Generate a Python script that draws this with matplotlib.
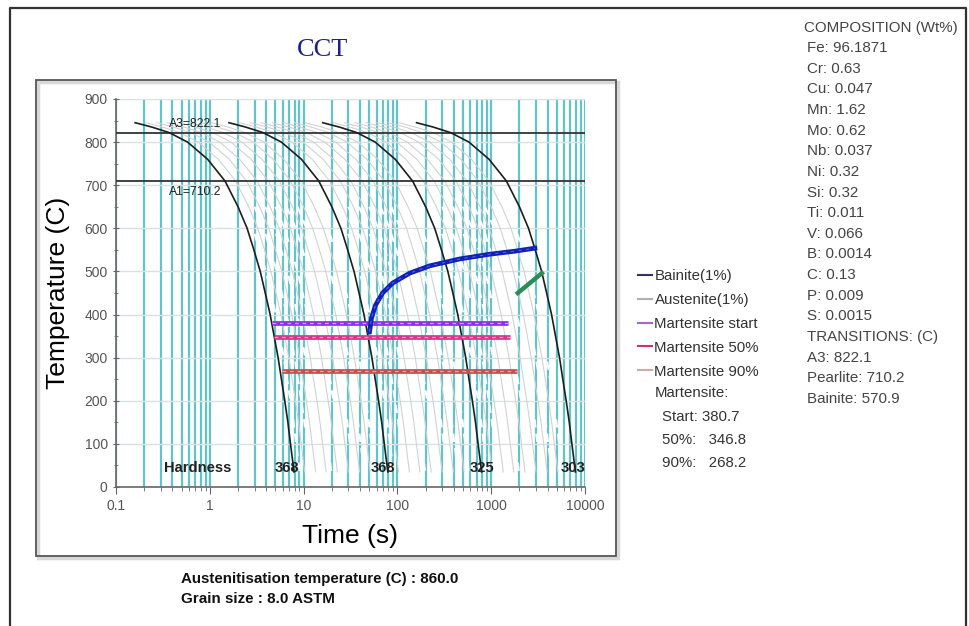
import numpy as np
import matplotlib
matplotlib.use('Agg')
import matplotlib.pyplot as plt
from matplotlib.lines import Line2D
from matplotlib.patches import Rectangle
from matplotlib.ticker import LogLocator, NullFormatter, MultipleLocator

plt.rcParams['font.family'] = ['Liberation Sans', 'DejaVu Sans']

# fastest cooling curve (time s, temperature C)
base_time = [0.16, 0.24, 0.37, 0.58, 0.95, 1.45, 2.0, 2.5, 2.95, 3.45, 3.9,
             4.4, 4.85, 5.35, 5.8, 6.3, 6.8, 7.25, 7.75, 7.9]
base_temp = [845, 835, 822, 800, 760, 710, 650, 600, 550, 500, 450,
             400, 350, 300, 250, 200, 150, 100, 50, 35]

# the other curves are the same curve shifted in time (slower rates)
black_shift = [1, 10, 100, 1000]
gray_shift = [1.3, 1.7, 2.2, 2.9, 3.8, 5.0, 6.5]
dash_shift = [1.15, 1.5, 1.95, 2.5, 3.3, 4.3, 5.6, 7.3]

hardness = ['368', '368', '325', '303']
hardness_time = [6.6, 70, 800, 7500]

a3 = 822.1
a1 = 710.2

ms_names = ['Martensite start', 'Martensite 50%', 'Martensite 90%']
ms_temp = [380.7, 346.8, 268.2]
ms_t0 = [4.6, 4.8, 5.9]
ms_t1 = [1500, 1600, 1900]

bain_time = [50.5, 53, 58.5, 69.5, 89, 135, 221, 462, 966, 1787, 2924]
bain_temp = [360, 392, 422, 450, 473, 496, 513, 529, 540, 547, 554]

green_time = [1920, 3470]
green_temp = [450, 496]

composition = ['Fe: 96.1871', 'Cr: 0.63', 'Cu: 0.047', 'Mn: 1.62', 'Mo: 0.62',
               'Nb: 0.037', 'Ni: 0.32', 'Si: 0.32', 'Ti: 0.011', 'V: 0.066',
               'B: 0.0014', 'C: 0.13', 'P: 0.009', 'S: 0.0015']
transitions = ['A3: 822.1', 'Pearlite: 710.2', 'Bainite: 570.9']

W, H = 969, 626
fig = plt.figure(figsize=(W / 100, H / 100), dpi=100)


def fx(px):
    return px / W


def fy(py):
    return 1 - py / H


# frames
fig.add_artist(Line2D([fx(10), fx(10), fx(966), fx(966)], [0, fy(8), fy(8), 0],
                      color='#333333', lw=1.6))
fig.add_artist(Rectangle((fx(38), fy(558)), fx(580), 476 / H, fill=False,
                         ec='#d8d8d8', lw=2.5))
fig.add_artist(Rectangle((fx(36), fy(556)), fx(580), 476 / H, fill=False,
                         ec='#555555', lw=1.3))

ax = fig.add_axes([fx(116), fy(487), fx(585 - 116), (487 - 99) / H])
ax.set_xscale('log')
ax.set_xlim(0.1, 10000)
ax.set_ylim(0, 900)

# grid: cyan verticals at every log tick, faint gray horizontals
ax.xaxis.set_major_locator(LogLocator(base=10, numticks=10))
ax.xaxis.set_minor_locator(LogLocator(base=10, subs=np.arange(2, 10), numticks=10))
ax.xaxis.set_minor_formatter(NullFormatter())
ax.set_xticks([0.1, 1, 10, 100, 1000, 10000])
ax.set_xticklabels(['0.1', '1', '10', '100', '1000', '10000'])
ax.yaxis.set_major_locator(MultipleLocator(100))
ax.yaxis.set_minor_locator(MultipleLocator(50))
ax.grid(which='both', axis='x', color='#63c3cb', lw=1.6)
ax.grid(which='major', axis='y', color='#d9e2e3', lw=1.0)
ax.set_axisbelow(True)

bt = np.array(base_time)
bT = np.array(base_temp)
low = bT <= 680

for dec in black_shift[:3]:
    for g in gray_shift:
        ax.plot(bt * dec * g, bT, color='#d2d2d2', lw=0.8, zorder=2)
    for d in dash_shift:
        ax.plot(bt[low] * dec * d, bT[low], color='white', lw=1.5,
                ls=(0, (4, 3)), zorder=2)

ax.axhline(a3, color='#333333', lw=1.3, zorder=3)
ax.axhline(a1, color='#333333', lw=1.3, zorder=3)
ax.text(0.37, a3 + 12, 'A3=822.1', fontsize=8.8, color='#222222', zorder=5)
ax.text(0.37, a1 - 12, 'A1=710.2', fontsize=8.8, color='#222222', va='top', zorder=5)

for dec in black_shift:
    ax.plot(bt * dec, bT, color='#1e1e1e', lw=1.2, zorder=4)

ms_colors = ['#8e2fe8', '#d8358c', '#c4504a']
for T, t0, t1, c in zip(ms_temp, ms_t0, ms_t1, ms_colors):
    ax.plot([t0, t1], [T, T], color=c, lw=3.4, solid_capstyle='butt', zorder=5)
    ax.plot([t0, t1], [T, T], color='#f0a0d0', lw=0.9, ls=(0, (3, 3)), zorder=5)

ax.plot(bain_time, bain_temp, color='#1020b8', lw=3.4, zorder=6)
ax.plot(bain_time, bain_temp, color='#5060e0', lw=0.8, ls=(0, (3, 4)), zorder=6)
ax.plot(green_time, green_temp, color='#2e8b57', lw=3.2, zorder=6)

ax.text(0.75, 45, 'Hardness', fontsize=10.6, fontweight='bold', color='#222222',
        ha='center', va='center', zorder=7)
for lab, t in zip(hardness, hardness_time):
    ax.text(t, 45, lab, fontsize=10.6, fontweight='bold', color='#222222',
            ha='center', va='center', zorder=7)

for s in ['top', 'right']:
    ax.spines[s].set_visible(False)
for s in ['left', 'bottom']:
    ax.spines[s].set_color('#666666')
    ax.spines[s].set_linewidth(1.2)
ax.tick_params(axis='both', which='major', labelsize=10, labelcolor='#555555',
               color='#666666', length=5)
ax.tick_params(axis='both', which='minor', color='#666666', length=3)
ax.tick_params(axis='y', which='both', direction='inout')

ax.set_xlabel('Time (s)', fontsize=19, labelpad=8)
ax.set_ylabel('Temperature (C)', fontsize=19, labelpad=10)

fig.text(fx(323), fy(50), 'CCT', fontsize=19, color='#1f1f8c',
         family=['Liberation Serif', 'DejaVu Serif'], ha='center', va='center')

# legend
leg_colors = ['#333366', '#b0b0b0', '#aa66bb', '#cc3377', '#ccaaaa']
handles = [Line2D([], [], color=c, lw=1.5) for c in leg_colors]
labels = ['Bainite(1%)', 'Austenite(1%)'] + ms_names
fig.legend(handles, labels, loc='upper left', bbox_to_anchor=(fx(632), fy(263)),
           frameon=False, fontsize=10.8, handlelength=0.9, handletextpad=0.2,
           labelspacing=0.66, labelcolor='#333333', borderaxespad=0)

fig.text(fx(655), fy(393), 'Martensite:', fontsize=10.8, color='#333333', va='center')
ms_lines = ['Start: 380.7', '50%:   346.8', '90%:   268.2']
for i, line in enumerate(ms_lines):
    fig.text(fx(662), fy(417 + 23 * i), line, fontsize=10.8, color='#333333', va='center')

# composition block
fs = 10.9
fig.text(fx(804), fy(28), 'COMPOSITION (Wt%)', fontsize=fs, color='#444444', va='center')
for i, line in enumerate(composition):
    fig.text(fx(807), fy(48 + 20.65 * i), line, fontsize=fs, color='#444444', va='center')
y0 = 48 + 20.65 * len(composition)
fig.text(fx(807), fy(y0), 'TRANSITIONS: (C)', fontsize=fs, color='#444444', va='center')
for i, line in enumerate(transitions):
    fig.text(fx(807), fy(y0 + 20.65 * (i + 1)), line, fontsize=fs, color='#444444',
             va='center')

fig.text(fx(181), fy(579), 'Austenitisation temperature (C) : 860.0', fontsize=10.9,
         fontweight='bold', color='#111111', va='center')
fig.text(fx(181), fy(599), 'Grain size : 8.0 ASTM', fontsize=10.9,
         fontweight='bold', color='#111111', va='center')

fig.savefig('out.png', dpi=100)
